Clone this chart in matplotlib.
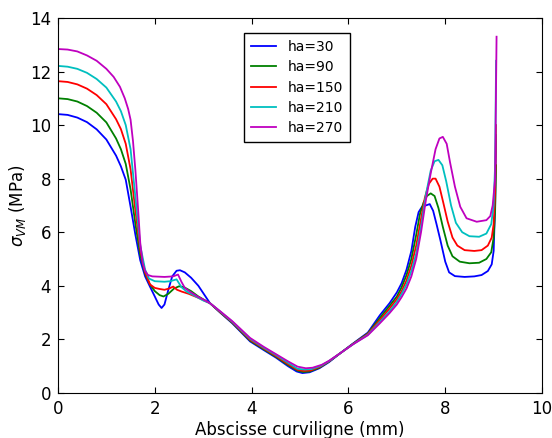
import matplotlib
matplotlib.use("Agg")
import matplotlib.pyplot as plt

# abscissa / stress values, one pair of lists per curve
x30 = [0, 0.2, 0.4, 0.6, 0.8, 1.0, 1.2, 1.3, 1.4, 1.5, 1.6, 1.7, 1.8, 1.9, 2.0, 2.08, 2.14,
       2.2, 2.28, 2.36, 2.45, 2.52, 2.62, 2.75, 2.9, 3.14, 3.35, 3.6, 3.97, 4.25, 4.5, 4.75,
       4.93, 5.05, 5.2, 5.4, 5.6, 5.83, 6.1, 6.4, 6.65, 6.85, 7.0, 7.1, 7.2, 7.3, 7.38, 7.45,
       7.52, 7.6, 7.68, 7.75, 7.82, 7.9, 8.0, 8.08, 8.2, 8.4, 8.6, 8.75, 8.88, 8.96, 9.0,
       9.03, 9.05]
y30 = [10.41, 10.38, 10.28, 10.11, 9.84, 9.46, 8.86, 8.46, 7.96, 6.95, 5.9, 4.95, 4.35, 3.97,
       3.6, 3.3, 3.17, 3.3, 3.85, 4.35, 4.56, 4.58, 4.5, 4.3, 4.0, 3.35, 3.0, 2.6, 1.92, 1.6,
       1.32, 1.0, 0.8, 0.74, 0.77, 0.92, 1.15, 1.48, 1.85, 2.25, 2.9, 3.35, 3.75, 4.1, 4.6,
       5.3, 6.2, 6.75, 6.95, 7.0, 7.05, 6.8, 6.3, 5.7, 4.9, 4.5, 4.36, 4.33, 4.35, 4.4, 4.55,
       4.8, 5.3, 7.0, 9.63]

x90 = [0, 0.2, 0.4, 0.6, 0.8, 1.0, 1.2, 1.3, 1.4, 1.5, 1.6, 1.7, 1.8, 1.9, 2.0, 2.1, 2.18,
       2.28, 2.4, 2.5, 2.6, 2.75, 2.9, 3.14, 3.35, 3.6, 3.97, 4.25, 4.5, 4.75, 4.95, 5.07,
       5.2, 5.4, 5.6, 5.83, 6.1, 6.4, 6.65, 6.85, 7.0, 7.1, 7.2, 7.3, 7.4, 7.48, 7.55, 7.62,
       7.7, 7.78, 7.86, 7.95, 8.05, 8.15, 8.3, 8.5, 8.7, 8.85, 8.95, 9.0, 9.03, 9.05]
y90 = [11.0, 10.97, 10.88, 10.71, 10.46, 10.1, 9.5, 9.1, 8.55, 7.6, 6.3, 5.15, 4.45, 4.05,
       3.8, 3.65, 3.6, 3.7, 3.9, 3.98, 3.95, 3.8, 3.6, 3.35, 3.01, 2.62, 1.95, 1.63, 1.35,
       1.04, 0.83, 0.78, 0.8, 0.94, 1.17, 1.48, 1.84, 2.22, 2.8, 3.25, 3.6, 3.95, 4.4, 5.0,
       5.9, 6.7, 7.1, 7.35, 7.45, 7.35, 6.9, 6.2, 5.5, 5.1, 4.9, 4.84, 4.86, 5.0, 5.25, 5.8,
       6.8, 8.5]

x150 = [0, 0.2, 0.4, 0.6, 0.8, 1.0, 1.2, 1.3, 1.4, 1.5, 1.6, 1.7, 1.8, 1.9, 2.0, 2.1, 2.2,
        2.3, 2.38, 2.46, 2.56, 2.7, 2.9, 3.14, 3.35, 3.6, 3.97, 4.25, 4.5, 4.75, 4.95, 5.08,
        5.22, 5.42, 5.6, 5.83, 6.1, 6.4, 6.65, 6.85, 7.0, 7.1, 7.2, 7.3, 7.4, 7.5, 7.58, 7.66,
        7.74, 7.8, 7.88, 7.96, 8.05, 8.15, 8.25, 8.4, 8.6, 8.75, 8.88, 8.96, 9.0, 9.03, 9.05]
y150 = [11.64, 11.61, 11.52, 11.36, 11.12, 10.78, 10.22, 9.85, 9.3, 8.35, 6.8, 5.35, 4.5,
        4.05, 3.92, 3.88, 3.85, 3.9, 3.97, 3.85, 3.78, 3.7, 3.55, 3.35, 3.02, 2.64, 1.98,
        1.66, 1.38, 1.08, 0.86, 0.82, 0.84, 0.98, 1.18, 1.48, 1.83, 2.2, 2.72, 3.15, 3.5, 3.8,
        4.2, 4.75, 5.5, 6.5, 7.3, 7.8, 8.0, 8.0, 7.7, 7.1, 6.4, 5.8, 5.5, 5.33, 5.3, 5.33,
        5.5, 5.8, 6.3, 7.5, 10.0]

x210 = [0, 0.2, 0.4, 0.6, 0.8, 1.0, 1.2, 1.3, 1.4, 1.5, 1.6, 1.7, 1.8, 1.88, 2.0, 2.2, 2.32,
        2.45, 2.55, 2.66, 2.8, 3.0, 3.14, 3.35, 3.6, 3.97, 4.25, 4.5, 4.75, 4.95, 5.1, 5.24,
        5.44, 5.6, 5.83, 6.1, 6.4, 6.65, 6.85, 7.0, 7.1, 7.2, 7.3, 7.4, 7.5, 7.6, 7.7, 7.78,
        7.86, 7.94, 8.02, 8.12, 8.22, 8.35, 8.5, 8.7, 8.85, 8.95, 9.0, 9.03, 9.05]
y210 = [12.21, 12.18, 12.1, 11.95, 11.72, 11.4, 10.88, 10.52, 10.0, 9.1, 7.3, 5.5, 4.6, 4.27,
        4.17, 4.15, 4.17, 4.24, 3.95, 3.78, 3.65, 3.45, 3.35, 3.04, 2.66, 2.02, 1.69, 1.42,
        1.13, 0.9, 0.87, 0.89, 1.02, 1.19, 1.48, 1.82, 2.17, 2.65, 3.05, 3.4, 3.7, 4.05, 4.55,
        5.2, 6.2, 7.4, 8.3, 8.65, 8.7, 8.5, 7.9, 7.0, 6.35, 6.0, 5.85, 5.83, 5.95, 6.3, 7.0,
        8.5, 12.4]

x270 = [0, 0.2, 0.4, 0.6, 0.8, 1.0, 1.15, 1.28, 1.38, 1.45, 1.5, 1.55, 1.6, 1.65, 1.7, 1.75,
        1.8, 1.86, 1.95, 2.2, 2.38, 2.48, 2.55, 2.62, 2.75, 2.9, 3.14, 3.35, 3.6, 3.97, 4.25,
        4.5, 4.75, 4.95, 5.12, 5.26, 5.45, 5.6, 5.83, 6.1, 6.4, 6.65, 6.85, 7.0, 7.1, 7.2,
        7.3, 7.4, 7.5, 7.6, 7.7, 7.8, 7.88, 7.95, 8.03, 8.1, 8.2, 8.31, 8.44, 8.65, 8.85,
        8.93, 8.98, 9.03, 9.06]
y270 = [12.84, 12.82, 12.75, 12.6, 12.4, 12.1, 11.8, 11.43, 11.0, 10.6, 10.2, 9.4, 8.3, 7.0,
        5.6, 4.85, 4.55, 4.4, 4.35, 4.33, 4.35, 4.42, 4.15, 3.92, 3.75, 3.58, 3.35, 3.05,
        2.68, 2.05, 1.72, 1.45, 1.18, 0.98, 0.92, 0.94, 1.05, 1.2, 1.48, 1.82, 2.15, 2.6,
        2.98, 3.3, 3.58, 3.9, 4.35, 5.0, 6.0, 7.2, 8.2, 9.1, 9.5, 9.56, 9.3, 8.6, 7.7, 6.95,
        6.52, 6.39, 6.45, 6.6, 7.0, 8.0, 13.3]

labels = ["ha=30", "ha=90", "ha=150", "ha=210", "ha=270"]
colors = ["#0000ff", "#008000", "#ff0000", "#00bfbf", "#bf00bf"]

fig = plt.figure(figsize=(5.52, 4.38), dpi=100)
ax = fig.add_axes([0.105, 0.103, 0.877, 0.856])

series = [(x30, y30), (x90, y90), (x150, y150), (x210, y210), (x270, y270)]
for (xs, ys), lab, c in zip(series, labels, colors):
    ax.plot(xs, ys, color=c, lw=1.3, label=lab)

ax.set_xlim(0, 10)
ax.set_ylim(0, 14)
ax.set_xticks(range(0, 11, 2))
ax.set_yticks(range(0, 15, 2))
ax.tick_params(direction="in", top=True, right=True, length=4, labelsize=12, pad=5)
ax.set_xlabel("Abscisse curviligne (mm)", fontsize=12, labelpad=2)
ax.set_ylabel(r"$\sigma_{VM}$ (MPa)", fontsize=12, labelpad=1)

leg = ax.legend(loc="upper center", bbox_to_anchor=(0.494, 0.978), fontsize=10,
                fancybox=False, edgecolor="black", framealpha=1, handlelength=1.8,
                borderpad=0.5, labelspacing=0.45)
leg.get_frame().set_linewidth(1.0)

fig.savefig("out.png", dpi=100)
